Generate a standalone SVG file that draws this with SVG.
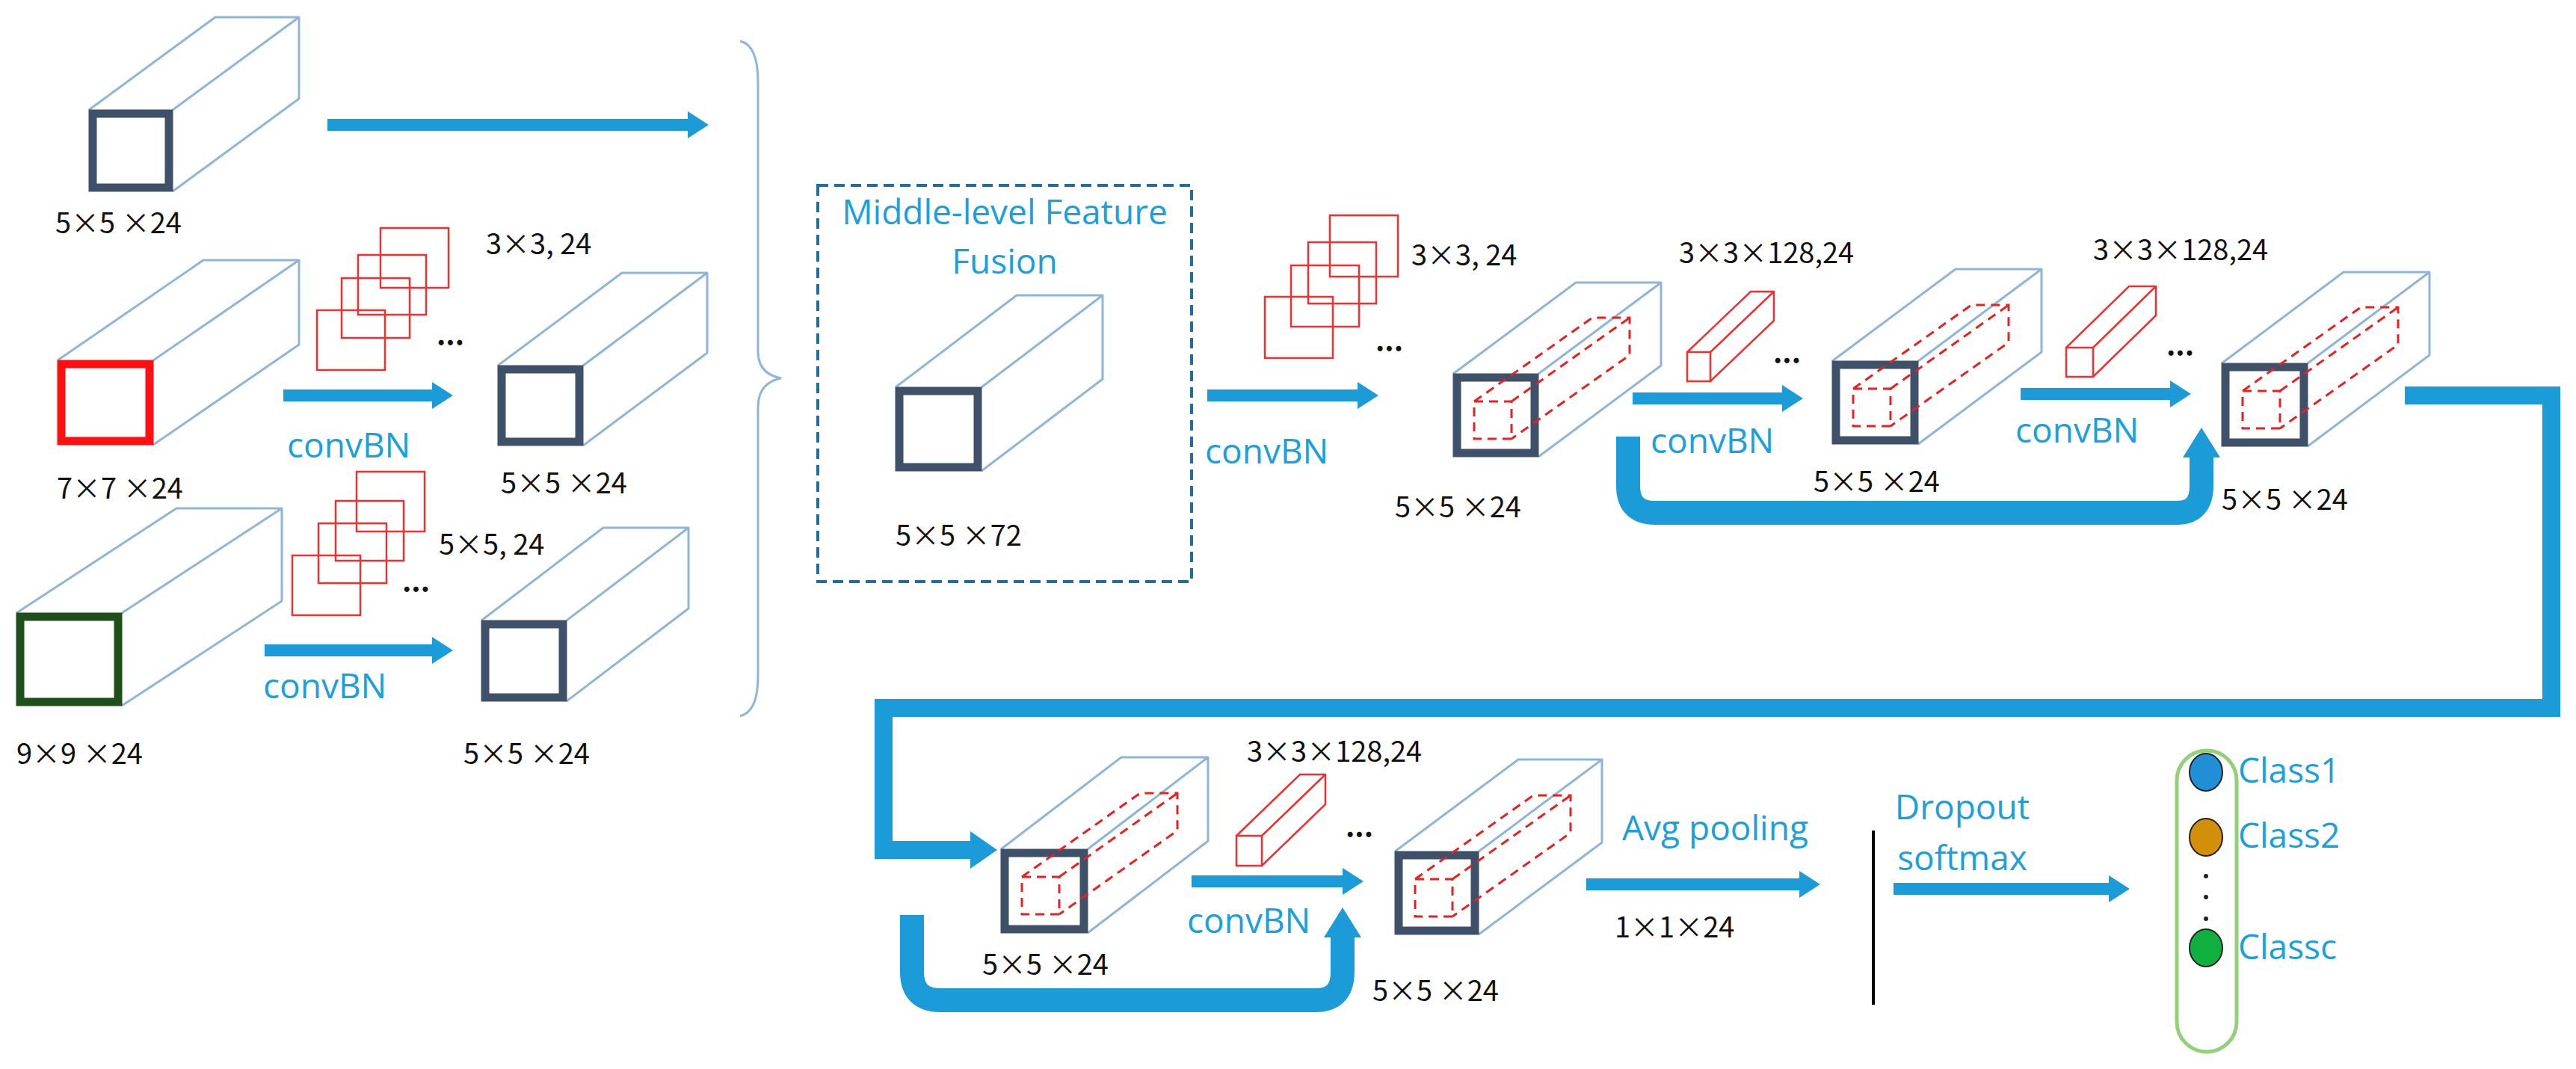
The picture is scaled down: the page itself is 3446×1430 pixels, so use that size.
<svg xmlns="http://www.w3.org/2000/svg" width="3446" height="1430" viewBox="0 0 3446 1430">
<style>
.pr{fill:none;stroke:#8fb6d8;stroke-width:3;stroke-linejoin:round}
.fr{fill:#fff;stroke:#3e5168;stroke-width:11}
.rf{fill:none;stroke:#f03030;stroke-width:2.5}
.dc{fill:none;stroke:#e82020;stroke-width:3;stroke-dasharray:12 8}
.t{font-family:"Noto Sans CJK SC","Open Sans",sans-serif;font-size:38px;fill:#111}
.b{font-family:"Open Sans","Liberation Sans",sans-serif;font-size:46px;fill:#1aa0dc}
.ar{stroke:#1b9bd7;stroke-width:16;fill:none}
.big{stroke:#1b9bd7;fill:none;stroke-linejoin:miter}
</style>
<defs>
<marker id="ah" markerUnits="userSpaceOnUse" markerWidth="30" markerHeight="40" refX="2" refY="20" orient="auto"><path d="M0,2 L28,20 L0,38 Z" fill="#1b9bd7"/></marker>
</defs>
<rect width="3446" height="1430" fill="#fff"/>

<g id="box1"><path class="pr" d="M119,147 L288,23 L400,23 L400,132 L231,256 M231,147 L400,23"/><rect class="fr" x="124" y="152" width="102" height="99"/><text class="t" x="74" y="312">5×5 ×24</text></g>
<g id="box2"><path class="pr" d="M77,482 L272,348 L400,348 L400,461 L205,595 M205,482 L400,348"/><rect x="82" y="487" width="118" height="103" fill="#fff" stroke="#ff1010" stroke-width="11"/><text class="t" x="76" y="667">7×7 ×24</text></g>
<g id="filt1"><rect class="rf" x="424" y="415" width="91" height="80"/><rect class="rf" x="457" y="372" width="91" height="80"/><rect class="rf" x="479" y="341" width="91" height="80"/><rect class="rf" x="509" y="305" width="91" height="80"/><text class="t" x="650" y="340">3×3, 24</text><text class="t" x="584" y="462" font-weight="bold">...</text></g>
<g id="box2b"><path class="pr" d="M666,489 L832,365 L946,365 L946,472 L780,596 M780,489 L946,365"/><rect class="fr" x="671" y="494" width="104" height="97"/><text class="t" x="670" y="660">5×5 ×24</text></g>
<g id="box3"><path class="pr" d="M22,820 L236,680 L377,680 L377,804 L163,944 M163,820 L377,680"/><rect x="27" y="825" width="131" height="114" fill="#fff" stroke="#1f4f1a" stroke-width="11"/><text class="t" x="22" y="1022">9×9 ×24</text></g>
<g id="filt2"><rect class="rf" x="391" y="743" width="91" height="80"/><rect class="rf" x="426" y="700" width="91" height="80"/><rect class="rf" x="449" y="670" width="91" height="80"/><rect class="rf" x="477" y="631" width="91" height="80"/><text class="t" x="587" y="742">5×5, 24</text><text class="t" x="538" y="792" font-weight="bold">...</text></g>
<g id="box3b"><path class="pr" d="M644,830 L807,706 L921,706 L921,814 L758,938 M758,830 L921,706"/><rect class="fr" x="649" y="835" width="104" height="98"/><text class="t" x="620" y="1022">5×5 ×24</text></g>
<path id="brace" d="M990,55 Q1014,60 1014,110 L1014,470 Q1014,500 1045,506 Q1014,512 1014,545 L1014,905 Q1014,952 990,958" fill="none" stroke="#8fb6d8" stroke-width="3"/>

<g id="fusion"><rect x="1094" y="248" width="500" height="530" fill="none" stroke="#1d6f9e" stroke-width="4" stroke-dasharray="14 8"/><text class="b" x="1344" y="300" text-anchor="middle">Middle-level Feature</text><text class="b" x="1344" y="366" text-anchor="middle">Fusion</text>
<path class="pr" d="M1198,518 L1360,395 L1475,395 L1475,507 L1313,630 M1313,518 L1475,395"/><rect class="fr" x="1203" y="523" width="105" height="102"/><text class="t" x="1198" y="730">5×5 ×72</text></g>
<g id="filt3"><rect class="rf" x="1692" y="397" width="91" height="82"/><rect class="rf" x="1727" y="355" width="91" height="82"/><rect class="rf" x="1750" y="324" width="91" height="82"/><rect class="rf" x="1779" y="288" width="91" height="82"/><text class="t" x="1888" y="355">3×3, 24</text><text class="t" x="1840" y="470" font-weight="bold">...</text></g>
<g id="boxA"><path class="pr" d="M1944,500 L2108,378 L2222,378 L2222,489 L2058,611 M2058,500 L2222,378"/><rect class="fr" x="1949" y="505" width="104" height="101"/><path class="dc" d="M1972,537 h50 v50 h-50 Z M1972,537 L2130,425 h50 v50 L2022,587 M2022,537 L2180,425"/><text class="t" x="1866" y="692">5×5 ×24</text></g>
<g id="fA"><path class="rf" d="M2257,471 L2342,390 L2373,390 L2373,429 L2288,510 M2288,471 L2373,390"/><rect class="rf" x="2257" y="471" width="31" height="39"/><text class="t" x="2246" y="352">3×3×128,24</text><text class="t" x="2372" y="486" font-weight="bold">...</text></g>
<g id="boxB"><path class="pr" d="M2451,483 L2616,360 L2731,360 L2731,471 L2566,594 M2566,483 L2731,360"/><rect class="fr" x="2456" y="488" width="105" height="101"/><path class="dc" d="M2479,520 h50 v50 h-50 Z M2479,520 L2637,408 h50 v50 L2529,570 M2529,520 L2687,408"/><text class="t" x="2426" y="658">5×5 ×24</text></g>
<g id="fB"><path class="rf" d="M2764,465 L2848,383 L2884,383 L2884,422 L2800,504 M2800,465 L2884,383"/><rect class="rf" x="2764" y="465" width="36" height="39"/><text class="t" x="2800" y="348">3×3×128,24</text><text class="t" x="2898" y="476" font-weight="bold">...</text></g>
<g id="boxC"><path class="pr" d="M2972,486 L3135,364 L3250,364 L3250,475 L3087,597 M3087,486 L3250,364"/><rect class="fr" x="2977" y="491" width="105" height="101"/><path class="dc" d="M3000,523 h50 v50 h-50 Z M3000,523 L3158,411 h50 v50 L3050,573 M3050,523 L3208,411"/><text class="t" x="2972" y="682">5×5 ×24</text></g>

<g id="boxD"><path class="pr" d="M1339,1136 L1500,1013 L1616,1013 L1616,1125 L1455,1248 M1455,1136 L1616,1013"/><rect class="fr" x="1344" y="1141" width="106" height="102"/><path class="dc" d="M1367,1173 h50 v50 h-50 Z M1367,1173 L1525,1061 h50 v50 L1417,1223 M1417,1173 L1575,1061"/><text class="t" x="1314" y="1304">5×5 ×24</text></g>
<g id="fD"><path class="rf" d="M1654,1118 L1739,1036 L1773,1036 L1773,1076 L1688,1158 M1688,1118 L1773,1036"/><rect class="rf" x="1654" y="1118" width="34" height="40"/><text class="t" x="1668" y="1019">3×3×128,24</text><text class="t" x="1800" y="1120" font-weight="bold">...</text></g>
<g id="boxE"><path class="pr" d="M1866,1139 L2031,1016 L2143,1016 L2143,1127 L1978,1250 M1978,1139 L2143,1016"/><rect class="fr" x="1871" y="1144" width="102" height="101"/><path class="dc" d="M1893,1176 h50 v50 h-50 Z M1893,1176 L2051,1064 h50 v50 L1943,1226 M1943,1176 L2101,1064"/><text class="t" x="1836" y="1339">5×5 ×24</text></g>
<line id="sep" x1="2506" y1="1111" x2="2506" y2="1344" stroke="#000" stroke-width="4"/>
<g id="output"><rect x="2912" y="1004" width="80" height="403" rx="40" fill="none" stroke="#93d07a" stroke-width="5"/>
<ellipse cx="2951" cy="1033" rx="22" ry="25" fill="#1f8fd6" stroke="#222" stroke-width="2"/>
<ellipse cx="2951" cy="1120" rx="22" ry="25" fill="#d48f0a" stroke="#222" stroke-width="2"/>
<ellipse cx="2951" cy="1268" rx="22" ry="25" fill="#10b040" stroke="#222" stroke-width="2"/>
<circle cx="2951" cy="1172" r="3" fill="#222"/><circle cx="2951" cy="1200" r="3" fill="#222"/><circle cx="2951" cy="1229" r="3" fill="#222"/>
<text class="b" x="2994" y="1047" font-size="40">Class1</text><text class="b" x="2994" y="1134" font-size="40">Class2</text><text class="b" x="2994" y="1283" font-size="40">Classc</text></g>

<g id="labels">
<text class="b" x="384" y="612">convBN</text>
<text class="b" x="352" y="934">convBN</text>
<text class="b" x="1612" y="620">convBN</text>
<text class="b" x="2208" y="606">convBN</text>
<text class="b" x="2696" y="592">convBN</text>
<text class="b" x="1588" y="1248">convBN</text>
<text class="b" x="2170" y="1124">Avg pooling</text>
<text class="t" x="2160" y="1254">1×1×24</text>
<text class="b" x="2625" y="1096" text-anchor="middle">Dropout</text>
<text class="b" x="2625" y="1164" text-anchor="middle">softmax</text>
</g>

<g id="connectors">
<line class="ar" x1="438" y1="167" x2="922" y2="167" stroke-width="20" marker-end="url(#ah)"/>
<line class="ar" x1="379" y1="529" x2="580" y2="529" marker-end="url(#ah)"/>
<line class="ar" x1="354" y1="870" x2="580" y2="870" marker-end="url(#ah)"/>
<line class="ar" x1="1615" y1="529" x2="1818" y2="529" marker-end="url(#ah)"/>
<line class="ar" x1="2184" y1="533" x2="2386" y2="533" marker-end="url(#ah)"/>
<line class="ar" x1="2703" y1="527" x2="2905" y2="527" marker-end="url(#ah)"/>
<line class="ar" x1="1594" y1="1179" x2="1798" y2="1179" marker-end="url(#ah)"/>
<line class="ar" x1="2122" y1="1183" x2="2409" y2="1183" marker-end="url(#ah)"/>
<line class="ar" x1="2533" y1="1189" x2="2823" y2="1189" marker-end="url(#ah)"/>
<path class="big" d="M3217,529 H3413 V947 H1182 V1137 H1300" stroke-width="24"/>
<path d="M1298,1112 L1334,1137 L1298,1162 Z" fill="#1b9bd7"/>
<path class="big" d="M2178,584 V650 Q2178,686 2214,686 H2912 Q2945,686 2945,650 V610" stroke-width="32" stroke-linejoin="round"/>
<path d="M2920,612 L2945,572 L2970,612 Z" fill="#1b9bd7"/>
<path class="big" d="M1220,1224 V1300 Q1220,1338 1258,1338 H1760 Q1796,1338 1796,1300 V1252" stroke-width="32"/>
<path d="M1771,1254 L1796,1214 L1821,1254 Z" fill="#1b9bd7"/>
</g>
</svg>
